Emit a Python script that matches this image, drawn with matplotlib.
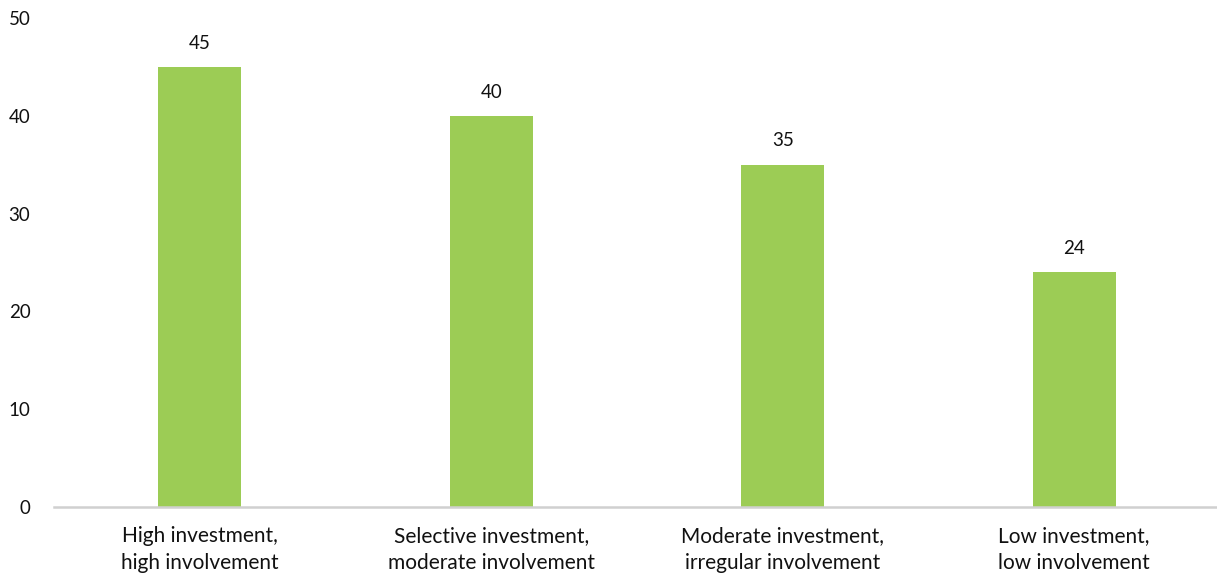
import matplotlib.pyplot as plt
import numpy as np

plt.rcParams['font.family'] = ['Lato', 'DejaVu Sans']

categorias = ['High investment,\nhigh involvement',
              'Selective investment,\nmoderate involvement',
              'Moderate investment,\nirregular involvement',
              'Low investment,\nlow involvement']
valores = [45, 40, 35, 24]
ticks_y = [0, 10, 20, 30, 40, 50]

cor_barra = '#9ccc55'
cor_texto = '#111111'

fig = plt.figure(figsize=(12.17, 5.76), dpi=100)
ax = fig.add_axes([54 / 1217, 69 / 576, 1166 / 1217, 489 / 576])

x = np.arange(len(categorias))
barras = ax.bar(x, valores, width=0.285, color=cor_barra, zorder=2)

# valor em cima de cada barra
for b, v in zip(barras, valores):
    ax.annotate(str(v), (b.get_x() + b.get_width() / 2, v),
                xytext=(0, 11), textcoords='offset points',
                ha='center', va='bottom', fontsize=13.5, color=cor_texto)

ax.set_xlim(-0.5, len(categorias) - 0.5)
ax.set_ylim(0, 50)
ax.set_yticks(ticks_y)
ax.set_xticks(x)
ax.set_xticklabels(categorias, fontsize=15, color=cor_texto, linespacing=1.38)
ax.tick_params(axis='y', length=0, pad=17, labelsize=13.5, labelcolor=cor_texto)
ax.tick_params(axis='x', length=0, pad=14)

for lado in ['top', 'right', 'left']:
    ax.spines[lado].set_visible(False)
ax.spines['bottom'].set_color('#d0d0d0')
ax.spines['bottom'].set_linewidth(1.8)
ax.spines['bottom'].set_zorder(3)

fig.savefig('out.png', dpi=100)
